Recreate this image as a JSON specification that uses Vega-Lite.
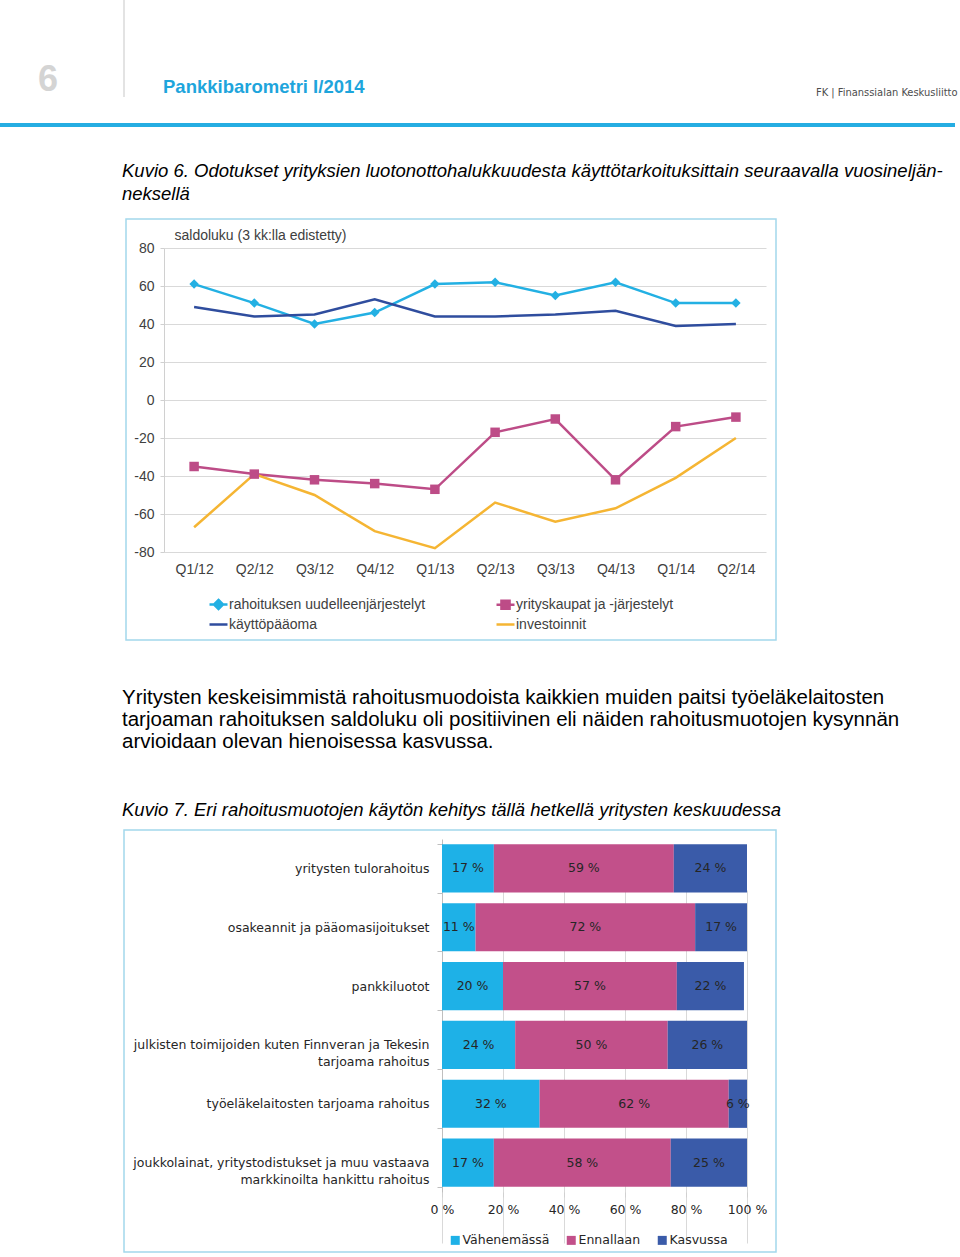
{
"$schema": "https://vega.github.io/schema/vega-lite/v6.json",
"padding": 0,
"background": "white",
"config": {"view": {"stroke": null}, "font": "Liberation Sans"},
"resolve": {"scale": {"color": "independent", "shape": "independent"}, "legend": {"color": "independent"}},
"spacing": 0,
"vconcat": [
 {"hconcat": [
   {"width": 123, "height": 97, "data": {"values": []}, "mark": "text",
    "title": {"text": "6", "orient": "bottom", "anchor": "start", "frame": "group", "dx": 38, "offset": -6, "baseline": "alphabetic", "fontSize": 36, "fontWeight": "bold", "color": "#d4d4d4", "font": "Liberation Sans"}},
   {"width": 2, "height": 97, "data": {"values": []}, "mark": "text", "view": {"fill": "#e3e3e3", "stroke": null}},
   {"width": 690, "height": 97, "data": {"values": []}, "mark": "text",
    "title": {"text": "Pankkibarometri I/2014", "orient": "bottom", "anchor": "start", "frame": "group", "dx": 38, "offset": -4, "baseline": "alphabetic", "fontSize": 18.5, "fontWeight": "bold", "color": "#1ea5dc", "font": "Liberation Sans"}},
   {"width": 140, "height": 97, "data": {"values": []}, "mark": "text",
    "title": {"text": "FK | Finanssialan Keskusliitto", "orient": "bottom", "anchor": "start", "frame": "group", "dx": 1, "offset": -1, "baseline": "alphabetic", "fontSize": 11, "fontWeight": "normal", "color": "#4d4d4d", "font": "DejaVu Sans Condensed"}}
 ], "spacing": 0},
 {"width": 1, "height": 25, "data": {"values": []}, "mark": "text"},
 {"width": 955, "height": 4, "data": {"values": []}, "mark": "text", "view": {"fill": "#25ade2", "stroke": null}},
 {"width": 955, "height": 91, "data": {"values": []}, "mark": "text",
  "title": {"text": ["Kuvio 6. Odotukset yrityksien luotonottohalukkuudesta käyttötarkoituksittain seuraavalla vuosineljän-", "neksellä"], "orient": "bottom", "anchor": "start", "frame": "group", "dx": 122, "offset": -41, "baseline": "alphabetic", "fontSize": 18.5, "fontStyle": "italic", "fontWeight": "normal", "font": "Liberation Sans", "color": "#000000", "lineHeight": 23}},
 {"hconcat": [
   {"width": 125, "height": 421, "data": {"values": []}, "mark": "text"},
   {"width": 650, "height": 421,
    "view": {"stroke": "#a3d8ec", "strokeWidth": 1.5},
    "data": {"values": [
      {"q": "Q1/12", "s": "rahoituksen uudelleenjärjestelyt", "v": 61},
      {"q": "Q2/12", "s": "rahoituksen uudelleenjärjestelyt", "v": 51},
      {"q": "Q3/12", "s": "rahoituksen uudelleenjärjestelyt", "v": 40},
      {"q": "Q4/12", "s": "rahoituksen uudelleenjärjestelyt", "v": 46},
      {"q": "Q1/13", "s": "rahoituksen uudelleenjärjestelyt", "v": 61},
      {"q": "Q2/13", "s": "rahoituksen uudelleenjärjestelyt", "v": 62},
      {"q": "Q3/13", "s": "rahoituksen uudelleenjärjestelyt", "v": 55},
      {"q": "Q4/13", "s": "rahoituksen uudelleenjärjestelyt", "v": 62},
      {"q": "Q1/14", "s": "rahoituksen uudelleenjärjestelyt", "v": 51},
      {"q": "Q2/14", "s": "rahoituksen uudelleenjärjestelyt", "v": 51},
      {"q": "Q1/12", "s": "käyttöpääoma", "v": 49},
      {"q": "Q2/12", "s": "käyttöpääoma", "v": 44},
      {"q": "Q3/12", "s": "käyttöpääoma", "v": 45},
      {"q": "Q4/12", "s": "käyttöpääoma", "v": 53},
      {"q": "Q1/13", "s": "käyttöpääoma", "v": 44},
      {"q": "Q2/13", "s": "käyttöpääoma", "v": 44},
      {"q": "Q3/13", "s": "käyttöpääoma", "v": 45},
      {"q": "Q4/13", "s": "käyttöpääoma", "v": 47},
      {"q": "Q1/14", "s": "käyttöpääoma", "v": 39},
      {"q": "Q2/14", "s": "käyttöpääoma", "v": 40},
      {"q": "Q1/12", "s": "yrityskaupat ja -järjestelyt", "v": -35},
      {"q": "Q2/12", "s": "yrityskaupat ja -järjestelyt", "v": -39},
      {"q": "Q3/12", "s": "yrityskaupat ja -järjestelyt", "v": -42},
      {"q": "Q4/12", "s": "yrityskaupat ja -järjestelyt", "v": -44},
      {"q": "Q1/13", "s": "yrityskaupat ja -järjestelyt", "v": -47},
      {"q": "Q2/13", "s": "yrityskaupat ja -järjestelyt", "v": -17},
      {"q": "Q3/13", "s": "yrityskaupat ja -järjestelyt", "v": -10},
      {"q": "Q4/13", "s": "yrityskaupat ja -järjestelyt", "v": -42},
      {"q": "Q1/14", "s": "yrityskaupat ja -järjestelyt", "v": -14},
      {"q": "Q2/14", "s": "yrityskaupat ja -järjestelyt", "v": -9},
      {"q": "Q1/12", "s": "investoinnit", "v": -67},
      {"q": "Q2/12", "s": "investoinnit", "v": -39},
      {"q": "Q3/12", "s": "investoinnit", "v": -50},
      {"q": "Q4/12", "s": "investoinnit", "v": -69},
      {"q": "Q1/13", "s": "investoinnit", "v": -78},
      {"q": "Q2/13", "s": "investoinnit", "v": -54},
      {"q": "Q3/13", "s": "investoinnit", "v": -64},
      {"q": "Q4/13", "s": "investoinnit", "v": -57},
      {"q": "Q1/14", "s": "investoinnit", "v": -41},
      {"q": "Q2/14", "s": "investoinnit", "v": -20}
    ]},
    "layer": [
      {"mark": {"type": "line", "strokeWidth": 2.5},
       "encoding": {
         "x": {"field": "q", "type": "ordinal", "sort": null, "scale": {"type": "point", "padding": 0.5, "range": [38, 640]},
               "axis": {"title": null, "labelAngle": 0, "domain": false, "ticks": false, "grid": false, "offset": -88, "labelPadding": 10, "labelFont": "Liberation Sans", "labelFontSize": 14, "labelColor": "#404040"}},
         "y": {"field": "v", "type": "quantitative", "scale": {"domain": [-80, 80], "range": [333, 29], "nice": false},
               "axis": {"title": "saldoluku (3 kk:lla edistetty)", "titleAngle": 0, "titleX": 10, "titleY": 20, "titleAlign": "left", "titleBaseline": "alphabetic", "titleFont": "Liberation Sans", "titleFontSize": 14, "titleFontWeight": "normal", "titleColor": "#404040",
                        "values": [-80, -60, -40, -20, 0, 20, 40, 60, 80], "labelExpr": "'' + datum.value", "offset": -38, "grid": true, "gridColor": "#d9d9d9", "domain": true, "domainColor": "#d0d0d0", "ticks": true, "tickSize": 4, "tickColor": "#d0d0d0", "labelPadding": 6, "labelFont": "Liberation Sans", "labelFontSize": 14, "labelColor": "#404040"}},
         "color": {"field": "s", "type": "nominal",
                   "scale": {"domain": ["rahoituksen uudelleenjärjestelyt", "yrityskaupat ja -järjestelyt", "käyttöpääoma", "investoinnit"], "range": ["#23b0e3", "#bd4c87", "#2f4d9e", "#f5b533"]},
                   "legend": {"orient": "none", "legendX": 208, "legendY": 375, "columns": 2, "direction": "horizontal", "title": null, "labelFont": "Liberation Sans", "labelFontSize": 14, "labelColor": "#404040", "labelLimit": 400, "symbolSize": 324, "symbolStrokeWidth": 2.5, "columnPadding": 65, "rowPadding": 0, "labelOffset": 0,
                              "encode": {"symbols": {"update": {
                                "shape": {"signal": "datum.value == 'rahoituksen uudelleenjärjestelyt' ? 'M-1,0H1M0,-0.5L0.5,0L0,0.5L-0.5,0Z' : datum.value == 'yrityskaupat ja -järjestelyt' ? 'M-1,0H1M-0.45,-0.45H0.45V0.45H-0.45Z' : 'M-1,0H1'"},
                                "fill": {"scale": "color", "field": "value"},
                                "stroke": {"scale": "color", "field": "value"},
                                "strokeWidth": {"value": 2.5}}}}}}
       }},
      {"transform": [{"filter": {"field": "s", "oneOf": ["rahoituksen uudelleenjärjestelyt", "yrityskaupat ja -järjestelyt"]}}],
       "mark": {"type": "point", "filled": true, "opacity": 1, "size": 90},
       "encoding": {
         "x": {"field": "q", "type": "ordinal", "sort": null},
         "y": {"field": "v", "type": "quantitative"},
         "color": {"field": "s", "type": "nominal", "legend": null},
         "shape": {"field": "s", "type": "nominal", "scale": {"domain": ["rahoituksen uudelleenjärjestelyt", "yrityskaupat ja -järjestelyt"], "range": ["diamond", "square"]}, "legend": null}
       }}
    ]}
 ], "spacing": 0},
 {"width": 955, "height": 150, "data": {"values": []}, "mark": "text",
  "title": {"text": ["Yritysten keskeisimmistä rahoitusmuodoista kaikkien muiden paitsi työeläkelaitosten", "tarjoaman rahoituksen saldoluku oli positiivinen eli näiden rahoitusmuotojen kysynnän", "arvioidaan olevan hienoisessa kasvussa."], "orient": "bottom", "anchor": "start", "frame": "group", "dx": 122, "offset": -87, "baseline": "alphabetic", "fontSize": 20.5, "fontWeight": "normal", "font": "Liberation Sans", "color": "#000000", "lineHeight": 22}},
 {"width": 955, "height": 32, "data": {"values": []}, "mark": "text",
  "title": {"text": "Kuvio 7. Eri rahoitusmuotojen käytön kehitys tällä hetkellä yritysten keskuudessa", "orient": "bottom", "anchor": "start", "frame": "group", "dx": 122, "offset": -7, "baseline": "alphabetic", "fontSize": 18.5, "fontStyle": "italic", "fontWeight": "normal", "font": "Liberation Sans", "color": "#000000"}},
 {"hconcat": [
   {"width": 123, "height": 422, "data": {"values": []}, "mark": "text"},
   {"width": 652, "height": 422,
    "view": {"stroke": "#a3d8ec", "strokeWidth": 1.5},
    "data": {"values": [
      {"cat": "yritysten tulorahoitus", "k": "Vähenemässä", "o": 1, "v": 17},
      {"cat": "yritysten tulorahoitus", "k": "Ennallaan", "o": 2, "v": 59},
      {"cat": "yritysten tulorahoitus", "k": "Kasvussa", "o": 3, "v": 24},
      {"cat": "osakeannit ja pääomasijoitukset", "k": "Vähenemässä", "o": 1, "v": 11},
      {"cat": "osakeannit ja pääomasijoitukset", "k": "Ennallaan", "o": 2, "v": 72},
      {"cat": "osakeannit ja pääomasijoitukset", "k": "Kasvussa", "o": 3, "v": 17},
      {"cat": "pankkiluotot", "k": "Vähenemässä", "o": 1, "v": 20},
      {"cat": "pankkiluotot", "k": "Ennallaan", "o": 2, "v": 57},
      {"cat": "pankkiluotot", "k": "Kasvussa", "o": 3, "v": 22},
      {"cat": "julkisten toimijoiden kuten Finnveran ja Tekesin tarjoama rahoitus", "k": "Vähenemässä", "o": 1, "v": 24},
      {"cat": "julkisten toimijoiden kuten Finnveran ja Tekesin tarjoama rahoitus", "k": "Ennallaan", "o": 2, "v": 50},
      {"cat": "julkisten toimijoiden kuten Finnveran ja Tekesin tarjoama rahoitus", "k": "Kasvussa", "o": 3, "v": 26},
      {"cat": "työeläkelaitosten tarjoama rahoitus", "k": "Vähenemässä", "o": 1, "v": 32},
      {"cat": "työeläkelaitosten tarjoama rahoitus", "k": "Ennallaan", "o": 2, "v": 62},
      {"cat": "työeläkelaitosten tarjoama rahoitus", "k": "Kasvussa", "o": 3, "v": 6},
      {"cat": "joukkolainat, yritystodistukset ja muu vastaava markkinoilta hankittu rahoitus", "k": "Vähenemässä", "o": 1, "v": 17},
      {"cat": "joukkolainat, yritystodistukset ja muu vastaava markkinoilta hankittu rahoitus", "k": "Ennallaan", "o": 2, "v": 58},
      {"cat": "joukkolainat, yritystodistukset ja muu vastaava markkinoilta hankittu rahoitus", "k": "Kasvussa", "o": 3, "v": 25}
    ]},
    "layer": [
      {"mark": {"type": "bar"},
       "encoding": {
         "y": {"field": "cat", "type": "nominal", "sort": null, "scale": {"paddingInner": 0.18, "paddingOuter": 0.09, "range": [9, 362]},
               "axis": {"title": null, "offset": -318, "domain": true, "domainColor": "#bfbfbf", "ticks": true, "tickBand": "extent", "tickSize": 5, "tickColor": "#bfbfbf", "labelPadding": 8, "labelFont": "DejaVu Sans", "labelFontSize": 12.5, "labelColor": "#262626", "labelLimit": 500, "labelLineHeight": 17,
                        "labelExpr": "datum.value == 'julkisten toimijoiden kuten Finnveran ja Tekesin tarjoama rahoitus' ? ['julkisten toimijoiden kuten Finnveran ja Tekesin', 'tarjoama rahoitus'] : datum.value == 'joukkolainat, yritystodistukset ja muu vastaava markkinoilta hankittu rahoitus' ? ['joukkolainat, yritystodistukset ja muu vastaava', 'markkinoilta hankittu rahoitus'] : datum.value"}},
         "x": {"field": "v", "type": "quantitative", "stack": "zero", "scale": {"domain": [0, 100], "range": [318, 623], "nice": false},
               "axis": {"title": null, "values": [0, 20, 40, 60, 80, 100], "offset": -60, "labelFlush": false, "labelExpr": "datum.value + ' %'", "grid": true, "gridColor": "#d9d9d9", "domain": false, "ticks": true, "tickSize": 5, "tickColor": "#d0d0d0", "labelPadding": 6, "labelFont": "DejaVu Sans", "labelFontSize": 12.5, "labelColor": "#262626"}},
         "color": {"field": "k", "type": "nominal",
                   "scale": {"domain": ["Vähenemässä", "Ennallaan", "Kasvussa"], "range": ["#1eb1e7", "#c2508a", "#3a5ba9"]},
                   "legend": {"orient": "none", "legendX": 449, "legendY": 404, "direction": "horizontal", "title": null, "symbolType": "square", "symbolSize": 81, "symbolStrokeWidth": 0, "labelFont": "DejaVu Sans", "labelFontSize": 12.5, "labelColor": "#262626", "columnPadding": 15, "labelOffset": 1}},
         "order": {"field": "o", "type": "quantitative"}
       }},
      {"mark": {"type": "text", "font": "DejaVu Sans", "fontSize": 12.5, "color": "#262626", "text": {"expr": "datum.v + ' %'"}},
       "encoding": {
         "y": {"field": "cat", "type": "nominal", "sort": null},
         "x": {"field": "v", "type": "quantitative", "stack": "zero", "bandPosition": 0.5},
         "detail": {"field": "k", "type": "nominal"},
         "order": {"field": "o", "type": "quantitative"}
       }}
    ]}
 ], "spacing": 0}
]
}
